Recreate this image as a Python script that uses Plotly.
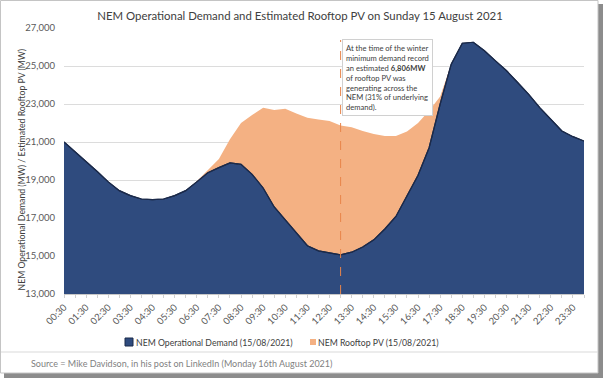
import plotly.graph_objects as go

times = ["00:30", "01:00", "01:30", "02:00", "02:30", "03:00", "03:30", "04:00",
         "04:30", "05:00", "05:30", "06:00", "06:30", "07:00", "07:30", "08:00",
         "08:30", "09:00", "09:30", "10:00", "10:30", "11:00", "11:30", "12:00",
         "12:30", "13:00", "13:30", "14:00", "14:30", "15:00", "15:30", "16:00",
         "16:30", "17:00", "17:30", "18:00", "18:30", "19:00", "19:30", "20:00",
         "20:30", "21:00", "21:30", "22:00", "22:30", "23:00", "23:30", "00:00"]

demand = [21000, 20500, 19980, 19450, 18900, 18440, 18180, 18000,
          17970, 18000, 18180, 18440, 18900, 19380, 19650, 19900,
          19820, 19300, 18580, 17580, 16900, 16200, 15540, 15270,
          15160, 15060, 15200, 15470, 15850, 16420, 17080, 18140,
          19250, 20700, 23000, 25100, 26200, 26250, 25800, 25270,
          24750, 24130, 23510, 22810, 22190, 21580, 21280, 21050]

rooftop_pv = [0, 0, 0, 0, 0, 0, 0, 0,
              0, 0, 0, 0, 30, 150, 450, 1250,
              2180, 3120, 4220, 5110, 5850, 6300, 6740, 6920,
              6940, 6806, 6580, 6110, 5570, 4890, 4230, 3410,
              2750, 1950, 400, 0, 0, 0, 0, 0,
              0, 0, 0, 0, 0, 0, 0, 0]

y_ticks = [13000, 15000, 17000, 19000, 21000, 23000, 25000, 27000]
label_times = times[0:47:2]

min_time = "13:00"
demand_name = "NEM Operational Demand (15/08/2021)"
pv_name = "NEM Rooftop PV (15/08/2021)"

BLUE = "#2F4B7E"
BLUE_EDGE = "#1B2A4A"
PEACH = "#F4B183"
FONT = "Lato"

W, H = 604, 379
L, R, T, B = 64, 20, 28, 85
PW, PH = W - L - R, H - T - B


def px(x):
    return (x - L) / PW


def py(y):
    return (H - B - y) / PH


fig = go.Figure()

fig.add_trace(go.Scatter(
    x=times, y=demand, stackgroup="s", mode="lines", name=demand_name,
    line=dict(color=BLUE_EDGE, width=1.2), fillcolor=BLUE,
    showlegend=False, hoverinfo="skip"))
fig.add_trace(go.Scatter(
    x=times, y=rooftop_pv, stackgroup="s", mode="lines", name=pv_name,
    line=dict(color=PEACH, width=0), fillcolor=PEACH,
    showlegend=False, hoverinfo="skip"))
fig.add_trace(go.Scatter(
    x=times, y=demand, mode="lines",
    line=dict(color=BLUE_EDGE, width=1.2),
    showlegend=False, hoverinfo="skip"))

tick_text = [t if t in label_times and i % 2 == 0 else "" for i, t in enumerate(times)]

fig.update_xaxes(
    type="category", categoryorder="array", categoryarray=times,
    range=[0, len(times) - 1],
    tickmode="array", tickvals=times, ticktext=tick_text,
    tickangle=-45, ticks="outside", ticklen=3, tickcolor="#D0D0D0",
    showline=True, linecolor="#C8C8C8", linewidth=1,
    showgrid=False, zeroline=False,
    tickfont=dict(family=FONT, size=9.5, color="#595959"),
)
fig.update_yaxes(
    range=[13000, 27000], tickmode="array", tickvals=y_ticks,
    tickformat=",", showgrid=True, gridcolor="#DCDCDC", gridwidth=1,
    zeroline=False, showline=False, ticks="", ticklabelstandoff=8,
    tickfont=dict(family=FONT, size=9.5, color="#595959"),
)

shapes = [
    # shadow
    dict(type="rect", xref="paper", yref="paper", layer="below",
         x0=px(4), x1=px(603), y0=py(378), y1=py(4),
         fillcolor="#8C8C8C", line=dict(width=0)),
    # frame
    dict(type="rect", xref="paper", yref="paper", layer="below",
         x0=px(0.5), x1=px(598), y0=py(373), y1=py(0.5),
         fillcolor="white", line=dict(color="#C4C4C4", width=1)),
    # separator
    dict(type="line", xref="paper", yref="paper", layer="below",
         x0=px(1), x1=px(598), y0=py(352), y1=py(352),
         line=dict(color="#D9D9D9", width=1)),
    # dashed marker line
    dict(type="line", xref="x", yref="paper", layer="above",
         x0=min_time, x1=min_time, y0=0, y1=py(40),
         line=dict(color="#E8854A", width=1, dash="dash")),
    # legend swatches
    dict(type="rect", xref="paper", yref="paper", layer="above",
         x0=px(125), x1=px(133), y0=py(346), y1=py(338),
         fillcolor=BLUE, line=dict(color=BLUE_EDGE, width=1)),
    dict(type="rect", xref="paper", yref="paper", layer="above",
         x0=px(310), x1=px(316), y0=py(345), y1=py(339),
         fillcolor=PEACH, line=dict(width=0)),
]

annotations = [
    dict(xref="paper", yref="paper", x=px(13), y=py(170),
         text="NEM Operational Demand (MW) / Estimated Rooftop PV (MW)",
         textangle=-90, showarrow=False,
         font=dict(family=FONT, size=8.7, color="#404040")),
    dict(xref="paper", yref="paper", x=px(342), y=py(39),
         xanchor="left", yanchor="top", align="left", showarrow=False,
         text=("At the time of the winter<br>minimum demand record<br>"
               "an estimated <b>6,806MW</b><br>of rooftop PV was<br>"
               "generating across the<br>NEM (31% of underlying<br>demand)."),
         font=dict(family=FONT, size=7.6, color="#404040"),
         bgcolor="white", bordercolor="#D0D0D0", borderwidth=1, borderpad=3),
    dict(xref="paper", yref="paper", x=px(29), y=py(363),
         xanchor="left", yanchor="middle", showarrow=False,
         text="Source = Mike Davidson, in his post on LinkedIn (Monday 16th August 2021)",
         font=dict(family=FONT, size=9, color="#7F7F7F")),
    # legend labels
    dict(xref="paper", yref="paper", x=px(134), y=py(342),
         xanchor="left", yanchor="middle", showarrow=False,
         text=demand_name, font=dict(family=FONT, size=8.7, color="#404040")),
    dict(xref="paper", yref="paper", x=px(316), y=py(342),
         xanchor="left", yanchor="middle", showarrow=False,
         text=pv_name, font=dict(family=FONT, size=8.7, color="#404040")),
]

fig.update_layout(
    width=W, height=H,
    margin=dict(l=L, r=R, t=T, b=B, autoexpand=False),
    paper_bgcolor="white", plot_bgcolor="white",
    title=dict(text="NEM Operational Demand and Estimated Rooftop PV on Sunday 15 August 2021",
               x=px(300), xanchor="center", y=1 - 16 / H, yanchor="middle",
               xref="paper",
               font=dict(family=FONT, size=11.4, color="#404040")),
    showlegend=False,
    shapes=shapes, annotations=annotations,
    font=dict(family=FONT),
)

fig.write_html("out.html",
               config={"displayModeBar": False},
               post_script="document.body.style.margin='0';document.body.style.padding='0';")
